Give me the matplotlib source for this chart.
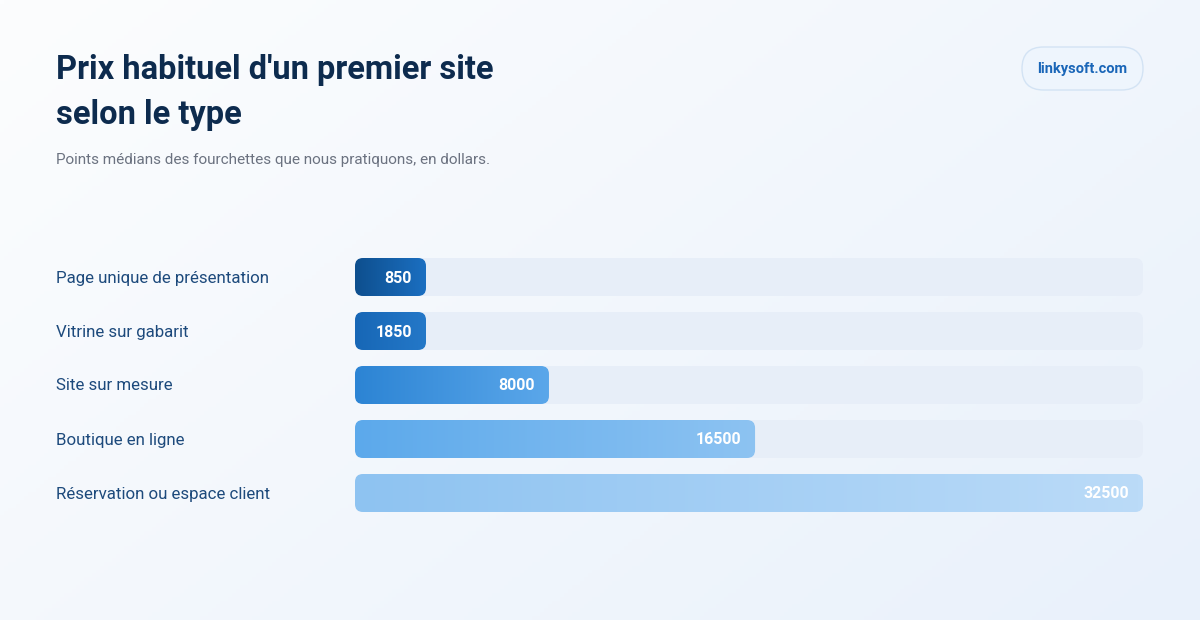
import numpy as np
import matplotlib.pyplot as plt
from matplotlib.patches import FancyBboxPatch
from matplotlib.colors import LinearSegmentedColormap, to_rgb

plt.rcParams['font.family'] = ['Roboto', 'DejaVu Sans']

# données
categories = ["Page unique de présentation", "Vitrine sur gabarit", "Site sur mesure",
              "Boutique en ligne", "Réservation ou espace client"]
values = [850, 1850, 8000, 16500, 32500]
bar_left = ["#0e4f8e", "#1767b6", "#2c84d4", "#5ca9eb", "#8ec3f1"]
bar_right = ["#1b6fc1", "#2478c8", "#5ba7ea", "#8dc3f2", "#bbdbf8"]

title_lines = ["Prix habituel d'un premier site", "selon le type"]
subtitle = "Points médians des fourchettes que nous pratiquons, en dollars."
brand = "linkysoft.com"

W, H = 1200, 620
fig = plt.figure(figsize=(W / 100, H / 100), dpi=100)

# fond en dégradé
bg = fig.add_axes([0, 0, 1, 1])
bg.set_axis_off()
xx, yy = np.meshgrid(np.linspace(0, 1, 300), np.linspace(0, 1, 160))
t = np.clip((xx * 0.6 + yy * 0.4), 0, 1)
c0, c1 = np.array(to_rgb("#fcfdfe")), np.array(to_rgb("#e9f1fb"))
img = c0 + (c1 - c0) * t[..., None]
bg.imshow(img, extent=[0, W, H, 0], aspect="auto", zorder=0)
bg.set_xlim(0, W)
bg.set_ylim(H, 0)

# textes
for k, line in enumerate(title_lines):
    bg.text(56, 79 + 45 * k, line, fontsize=23.5, fontweight="bold", color="#0d2b4e",
            va="baseline", ha="left")
bg.text(56, 164, subtitle, fontsize=11, color="#6b7280", va="baseline", ha="left")

pill = FancyBboxPatch((1022, 47), 121, 43, boxstyle="round,pad=0,rounding_size=21.5",
                      facecolor="#eef5fd", edgecolor="#d3e3f4", linewidth=1.0, zorder=2)
bg.add_patch(pill)
bg.text(1082.5, 69, brand, fontsize=10.5, fontweight="bold", color="#1a66b8",
        ha="center", va="center", zorder=3)

# barres
left_px, right_px, top_px, bot_px = 355, 1143, 250, 520
ax = fig.add_axes([left_px / W, 1 - bot_px / H, (right_px - left_px) / W, (bot_px - top_px) / H])
ax.set_axis_off()
vmax = max(values)
ax.set_xlim(0, vmax)
ax.set_ylim(len(values) - 0.5, -0.5)

xpp = vmax / (right_px - left_px)          # unités x par pixel
ypp = len(values) / (bot_px - top_px)      # unités y par pixel
aspect = ypp / xpp
bar_h = 38 * ypp
radius = 8 * xpp
min_w = 71 * xpp

for i, (cat, v) in enumerate(zip(categories, values)):
    y0 = i - bar_h / 2
    track = FancyBboxPatch((0, y0), vmax, bar_h,
                           boxstyle=f"round,pad=0,rounding_size={radius}",
                           mutation_aspect=aspect, facecolor="#e7eef8",
                           edgecolor="none", zorder=1)
    ax.add_patch(track)

    w = max(v, min_w)
    bar = FancyBboxPatch((0, y0), w, bar_h,
                         boxstyle=f"round,pad=0,rounding_size={radius}",
                         mutation_aspect=aspect, facecolor="none",
                         edgecolor="none", zorder=2)
    ax.add_patch(bar)
    cmap = LinearSegmentedColormap.from_list(f"b{i}", [bar_left[i], bar_right[i]])
    grad = ax.imshow(np.linspace(0, 1, 256)[None, :], cmap=cmap, aspect="auto",
                     extent=[0, w, y0 + bar_h, y0], zorder=2, interpolation="bilinear")
    grad.set_clip_path(bar)

    ax.text(w - 14 * xpp, i + 5.5 * ypp, f"{v}", color="white", fontsize=11.5,
            fontweight="bold", ha="right", va="baseline", zorder=3)
    bg.text(56, top_px + (i + 0.5) / ypp + 5.5, cat, fontsize=12.2, color="#1d4a7c",
            ha="left", va="baseline")

ax.set_xlim(0, vmax)
ax.set_ylim(len(values) - 0.5, -0.5)

plt.savefig("out.png", dpi=100)
